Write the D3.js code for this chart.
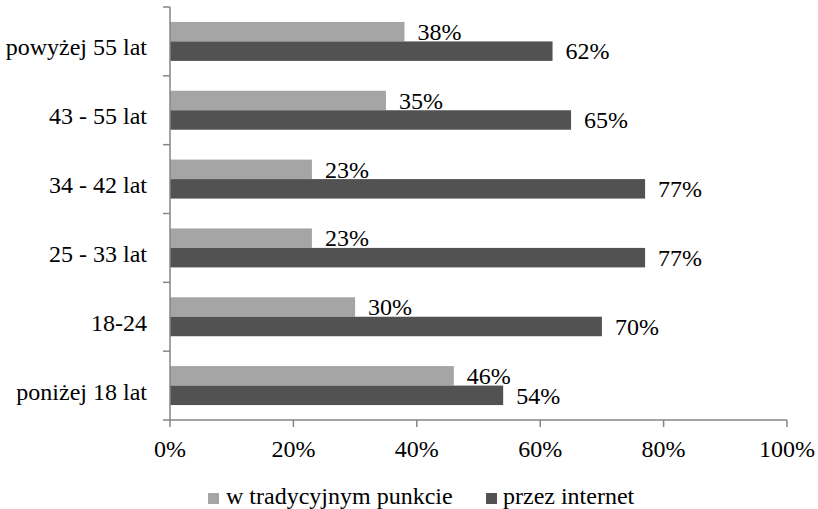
<!DOCTYPE html>
<html>
<head>
<meta charset="utf-8">
<script src="https://cdn.jsdelivr.net/npm/d3@7"></script>
<style>
  body { margin: 0; background: #fff; }
  #chart, #chart text { font-family: "Liberation Serif", "Times New Roman", Tinos; }
</style>
</head>
<body>
<svg id="chart" width="818" height="509" font-family="Liberation Serif"></svg>
<script>
// Age groups, listed top to bottom
const categories = ["powyżej 55 lat", "43 - 55 lat", "34 - 42 lat", "25 - 33 lat", "18-24", "poniżej 18 lat"];
// Share of answers per channel (%)
const traditional = [38, 35, 23, 23, 30, 46];
const online = [62, 65, 77, 77, 70, 54];
const seriesNames = ["w tradycyjnym punkcie", "przez internet"];
const xTicks = [0, 20, 40, 60, 80, 100];

const colors = ["#a5a5a5", "#525252"];
const axisColor = "#868686";
const fontSize = 24;

const svg = d3.select("#chart");

const x = d3.scaleLinear().domain([0, 100]).range([170, 787]);
const y = d3.scaleBand().domain(categories).range([7, 420]);
const bw = y.bandwidth();
const barH = bw * 0.283;
const inner = d3.scaleBand().domain([0, 1]).range([bw / 2 - barH, bw / 2 + barH]);

function label(g, tx, ty, str, anchor) {
  return g.append("text")
    .attr("x", tx)
    .attr("y", ty)
    .attr("text-anchor", anchor || "start")
    .attr("font-size", fontSize)
    .style("font-family", '"Liberation Serif"')
    .style("fill", "#000")
    .text(str);
}

const rows = categories.map((c, i) => ({ c, vals: [traditional[i], online[i]] }));

// bars with value labels
const gBars = svg.append("g");
rows.forEach(r => {
  r.vals.forEach((v, s) => {
    const by = y(r.c) + inner(s);
    gBars.append("rect")
      .attr("x", x(0))
      .attr("y", by)
      .attr("width", x(v) - x(0))
      .attr("height", inner.bandwidth())
      .attr("fill", colors[s]);
    label(gBars, x(v) + 13, by + inner.bandwidth() - 1.5, v + "%");
  });
});

// y axis
const gy = svg.append("g");
gy.append("line")
  .attr("x1", x(0)).attr("x2", x(0))
  .attr("y1", y.range()[0]).attr("y2", y.range()[1])
  .attr("stroke", axisColor).attr("stroke-width", 1.5);
const yEdges = categories.map(c => y(c)).concat([y.range()[1]]);
yEdges.forEach(v => {
  gy.append("line")
    .attr("x1", x(0) - 7).attr("x2", x(0))
    .attr("y1", v).attr("y2", v)
    .attr("stroke", axisColor).attr("stroke-width", 1.5);
});
categories.forEach(c => {
  label(gy, 147, y(c) + bw / 2 + 14, c, "end");
});

// x axis
const gx = svg.append("g");
gx.append("line")
  .attr("x1", x(0)).attr("x2", x(100))
  .attr("y1", 420).attr("y2", 420)
  .attr("stroke", axisColor).attr("stroke-width", 1.5);
xTicks.forEach(t => {
  gx.append("line")
    .attr("x1", x(t)).attr("x2", x(t))
    .attr("y1", 420).attr("y2", 427)
    .attr("stroke", axisColor).attr("stroke-width", 1.5);
  label(gx, x(t), 457, t + "%", "middle");
});

// legend
const legendItems = [
  { name: seriesNames[0], color: colors[0], sx: 208, tx: 226 },
  { name: seriesNames[1], color: colors[1], sx: 486, tx: 503 }
];
const gl = svg.append("g");
legendItems.forEach(d => {
  gl.append("rect")
    .attr("x", d.sx).attr("y", 493)
    .attr("width", 11).attr("height", 11)
    .attr("fill", d.color);
  label(gl, d.tx, 504, d.name);
});
</script>
</body>
</html>
